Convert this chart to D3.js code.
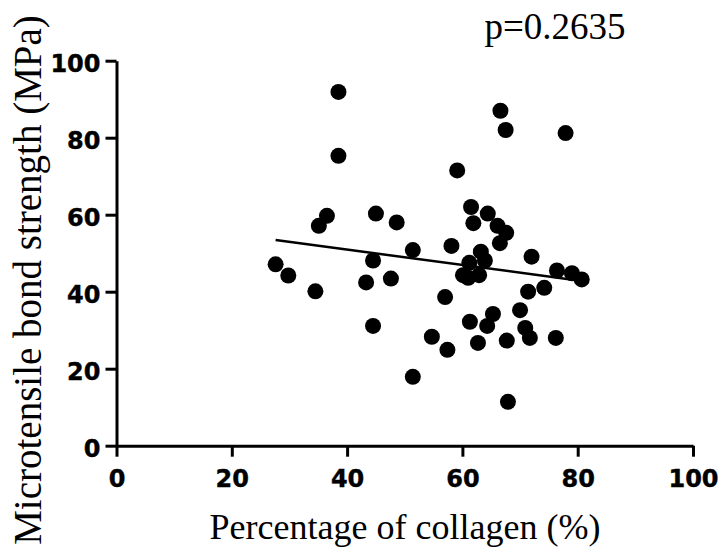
<!DOCTYPE html>
<html>
<head>
<meta charset="utf-8">
<script src="https://cdn.jsdelivr.net/npm/d3@7"></script>
<style>
  body { margin: 0; background: #fff; }
  svg { display: block; }
</style>
</head>
<body>
<div id="chart"></div>
<script>
/* scatter: collagen % vs microtensile bond strength */

var collagen = [27.6, 29.8, 34.5, 35.1, 36.5, 38.5, 38.5, 43.3, 44.5, 44.5,
  45.0, 47.6, 48.6, 51.4, 51.4, 54.7, 57.0, 57.4, 58.1, 59.1,
  60.1, 61.0, 61.2, 61.5, 61.3, 61.9, 62.7, 62.9, 63.2, 63.9,
  64.3, 64.4, 65.3, 66.1, 66.5, 66.6, 67.5, 67.6, 67.7, 67.9,
  70.0, 70.9, 71.4, 71.7, 72.0, 74.2, 76.2, 76.4, 77.9, 79.0, 80.7];
var strength = [47.1, 44.2, 40.1, 57.1, 59.7, 91.9, 75.3, 42.4, 48.1, 31.1,
  60.3, 43.4, 58.0, 50.8, 17.9, 28.3, 38.6, 24.9, 51.9, 71.5,
  44.3, 43.6, 47.5, 62.0, 32.2, 57.8, 26.7, 44.3, 50.4, 48.1,
  31.1, 60.3, 34.2, 57.1, 52.6, 87.0, 82.0, 55.3, 27.3, 11.4,
  35.2, 30.6, 40.0, 28.0, 49.1, 41.0, 28.0, 45.5, 81.2, 44.8, 43.2];
var xTicks = [0, 20, 40, 60, 80, 100];
var yTicks = [0, 20, 40, 60, 80, 100];
var pLabel = 'p=0.2635';

var width = 723;
var height = 556;

var svg = d3.select('#chart').append('svg')
  .attr('width', width)
  .attr('height', height);

var x = d3.scaleLinear().domain([0, 100]).range([116.5, 693]);
var y = d3.scaleLinear().domain([0, 100]).range([445.7, 60.7]);

var points = collagen.map(function(c, i) {
  return { x: c, y: strength[i] };
});

/* least squares fit */
var mx = d3.mean(collagen);
var my = d3.mean(strength);
var sxy = d3.sum(points, function(d) { return (d.x - mx) * (d.y - my); });
var sxx = d3.sum(points, function(d) { return (d.x - mx) * (d.x - mx); });
var slope = sxy / sxx;
var icpt = my - slope * mx;
var xr = d3.extent(collagen);

var xAxis = d3.axisBottom(x).tickValues(xTicks).tickSize(11).tickPadding(13)
  .tickSizeOuter(0).tickFormat(d3.format('d'));
var yAxis = d3.axisLeft(y).tickValues(yTicks).tickSize(11).tickPadding(5)
  .tickSizeOuter(0).tickFormat(d3.format('d'));

function styleAxis(g) {
  g.select('.domain').attr('stroke-width', 3).attr('stroke', '#000');
  g.selectAll('.tick line').attr('stroke-width', 3).attr('stroke', '#000');
  g.selectAll('.tick text')
    .attr('fill', '#000')
    .attr('stroke', '#000')
    .attr('stroke-width', 0.4)
    .style('font-family', '"DejaVu Sans", sans-serif')
    .style('font-weight', 'bold')
    .style('font-size', '24px');
}

svg.append('g')
  .attr('transform', 'translate(0,' + y(0) + ')')
  .call(xAxis)
  .call(styleAxis);

svg.append('g')
  .attr('transform', 'translate(' + x(0) + ',0)')
  .call(yAxis)
  .call(styleAxis)
  .selectAll('.tick text').attr('dy', '0.45em');

svg.append('g').selectAll('circle')
  .data(points)
  .enter().append('circle')
  .attr('cx', function(d) { return x(d.x); })
  .attr('cy', function(d) { return y(d.y); })
  .attr('r', 8)
  .attr('fill', '#000');

svg.append('line')
  .attr('x1', x(xr[0]))
  .attr('y1', y(icpt + slope * xr[0]))
  .attr('x2', x(xr[1]))
  .attr('y2', y(icpt + slope * xr[1]))
  .attr('stroke', '#000')
  .attr('stroke-width', 2.5);

svg.append('text')
  .attr('x', 405)
  .attr('y', 539)
  .attr('text-anchor', 'middle')
  .style('font-family', '"Liberation Serif", "Times New Roman", serif')
  .style('font-size', '36px')
  .text('Percentage of collagen (%)');

svg.append('text')
  .attr('transform', 'translate(41,280) rotate(-90)')
  .attr('text-anchor', 'middle')
  .style('font-family', '"Liberation Serif", "Times New Roman", serif')
  .style('font-size', '39px')
  .text('Microtensile bond strength (MPa)');

svg.append('text')
  .attr('x', 555)
  .attr('y', 39)
  .attr('text-anchor', 'middle')
  .style('font-family', '"Liberation Serif", "Times New Roman", serif')
  .style('font-size', '37px')
  .text(pLabel);
</script>
</body>
</html>
